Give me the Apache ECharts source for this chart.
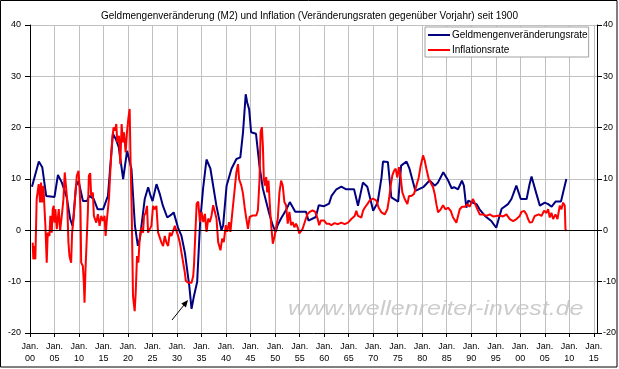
<!DOCTYPE html>
<html>
<head>
<meta charset="utf-8">
<script src="https://cdn.jsdelivr.net/npm/echarts@6/dist/echarts.min.js"></script>
<style>
html,body{margin:0;padding:0;background:#fff;}
#chart{width:619px;height:369px;}
</style>
</head>
<body>
<div id="chart"></div>
<script>
// ---- data ----
const titleText = 'Geldmengenveränderung (M2) und Inflation (Veränderungsraten gegenüber Vorjahr) seit 1900';
const seriesNames = ['Geldmengenveränderungsrate', 'Inflationsrate'];
const xTickYears = [1900,1905,1910,1915,1920,1925,1930,1935,1940,1945,1950,1955,1960,1965,1970,1975,1980,1985,1990,1995,2000,2005,2010,2015];
const xTickLabels = ['00','05','10','15','20','25','30','35','40','45','50','55','60','65','70','75','80','85','90','95','00','05','10','15'];
const yTicks = [-20,-10,0,10,20,30,40];

const m2Years = [1900.4,1901.8,1902.5,1903.3,1905.0,1905.7,1906.5,1907.5,1908.2,1908.7,1909.4,1909.9,1910.8,1911.6,1912.1,1913.0,1913.8,1914.9,1915.9,1916.9,1917.5,1918.1,1919.0,1919.8,1920.7,1921.4,1922.0,1922.4,1923.4,1924.1,1924.6,1925.0,1925.8,1926.5,1927.1,1928.0,1928.9,1929.3,1930.2,1930.9,1931.6,1932.5,1932.95,1933.4,1934.1,1934.7,1935.3,1936.0,1936.8,1938.0,1939.05,1939.4,1940.1,1941.1,1942.1,1942.9,1943.45,1944.0,1944.3,1944.7,1945.1,1946.1,1946.8,1947.5,1948.7,1949.5,1950.1,1950.5,1951.2,1952.2,1953.0,1954.1,1956.3,1956.8,1958.3,1958.9,1960.0,1961.0,1961.5,1962.5,1963.5,1964.5,1966.1,1966.9,1967.9,1968.8,1970.0,1970.9,1971.7,1972.0,1973.0,1973.7,1975.1,1975.7,1976.8,1977.4,1978.6,1980.2,1981.5,1982.6,1983.2,1984.3,1985.3,1986.0,1986.5,1987.3,1988.1,1988.5,1989.0,1989.4,1990.2,1991.1,1991.7,1992.8,1994.1,1995.1,1995.6,1996.2,1997.5,1998.2,1999.2,2000.1,2001.3,2001.9,2002.3,2003.3,2004.0,2005.0,2005.7,2006.4,2007.2,2008.3,2009.4];
const m2Values = [8.5,13.4,12.3,6.7,6.5,10.8,9.3,6.4,2.2,0.8,8.7,9.6,5.7,5.7,6.7,6.1,4.1,4.1,6.7,18.8,17.8,16.2,10.0,15.5,11.9,0.9,-3.0,-1.7,6.1,8.4,6.7,5.7,9.0,7.0,4.8,2.5,3.1,3.5,0.5,-1.1,-4.4,-10.9,-15.3,-13.0,-10.0,1.6,8.1,13.8,12.0,4.9,0.0,1.0,8.7,12.0,13.9,14.2,19.1,26.5,24.9,23.6,19.1,18.8,12.6,8.1,3.6,1.0,-0.3,1.0,2.3,3.9,5.5,3.6,3.6,1.9,2.6,4.9,4.7,5.2,6.7,8.0,8.5,8.0,8.0,4.8,9.3,8.5,3.8,5.4,10.3,13.4,13.3,6.4,5.6,12.6,13.4,12.0,7.7,8.4,9.7,8.7,9.3,11.3,9.7,8.2,8.4,8.0,9.7,8.7,4.4,5.8,5.4,5.1,4.1,2.8,1.8,0.5,2.2,4.2,5.1,6.1,8.7,6.1,6.1,9.0,10.5,7.1,4.8,5.4,5.1,4.6,5.6,5.6,10.0];

const cpiYears = [1900.55,1900.68,1900.89,1901.09,1901.36,1901.77,1902.05,1902.25,1902.46,1902.73,1902.93,1903.14,1903.41,1903.62,1903.96,1904.16,1904.43,1904.64,1904.84,1904.98,1905.18,1905.46,1905.66,1905.87,1906.14,1906.55,1906.82,1907.09,1907.37,1907.57,1907.84,1908.05,1908.39,1908.59,1908.94,1909.21,1909.55,1909.89,1910.10,1910.30,1910.44,1910.78,1910.98,1911.12,1911.32,1911.60,1911.80,1912.01,1912.28,1912.48,1912.82,1913.03,1913.30,1913.51,1913.85,1914.19,1914.53,1914.87,1915.21,1915.42,1915.69,1916.10,1916.44,1916.78,1917.05,1917.33,1917.60,1917.80,1918.14,1918.42,1918.69,1918.96,1919.17,1919.51,1919.78,1920.05,1920.33,1920.53,1920.74,1921.01,1921.35,1921.56,1921.83,1922.10,1922.37,1922.71,1923.06,1923.26,1923.60,1923.87,1924.08,1924.42,1924.76,1925.10,1925.44,1925.78,1926.13,1926.47,1926.81,1927.15,1927.49,1927.83,1928.17,1928.51,1928.85,1929.20,1929.54,1929.88,1930.22,1930.56,1930.90,1931.24,1931.58,1931.79,1932.27,1932.61,1932.95,1933.29,1933.45,1933.65,1933.99,1934.32,1934.66,1935.0,1935.34,1935.68,1936.01,1936.35,1936.69,1937.03,1937.36,1937.70,1938.04,1938.38,1938.85,1939.19,1939.53,1939.93,1940.20,1940.61,1940.88,1941.28,1941.76,1942.09,1942.43,1942.64,1943.11,1943.45,1943.78,1944.12,1944.46,1944.80,1945.14,1945.47,1946.15,1946.49,1946.82,1947.03,1947.30,1947.50,1947.70,1947.91,1948.18,1948.38,1948.65,1948.92,1949.19,1949.53,1949.86,1950.20,1950.54,1950.88,1951.22,1951.55,1951.89,1952.23,1952.57,1952.91,1953.24,1953.58,1953.92,1954.26,1954.59,1954.93,1955.27,1955.61,1955.95,1956.28,1956.62,1957.09,1957.64,1958.18,1958.65,1958.99,1959.32,1959.66,1960.0,1960.47,1961.01,1961.46,1962.14,1962.82,1963.50,1964.18,1964.86,1965.54,1966.22,1966.56,1966.90,1967.24,1967.59,1967.93,1968.27,1968.81,1969.29,1969.97,1970.65,1971.12,1971.67,1972.35,1972.89,1973.23,1973.57,1973.91,1974.25,1974.59,1974.93,1975.27,1975.61,1975.95,1976.43,1976.97,1977.31,1977.79,1978.33,1978.81,1979.29,1979.69,1980.17,1980.51,1980.85,1981.33,1981.73,1982.21,1982.55,1982.89,1983.23,1983.78,1984.25,1984.73,1985.27,1985.82,1986.29,1986.97,1987.31,1987.65,1988.13,1988.67,1989.22,1989.69,1990.03,1990.37,1990.71,1991.26,1991.73,1992.41,1993.10,1993.78,1994.46,1995.14,1995.82,1996.50,1997.18,1997.86,1998.54,1999.22,1999.90,2000.24,2000.78,2001.26,2001.60,2001.94,2002.41,2002.96,2003.30,2003.78,2004.32,2004.86,2005.34,2005.68,2006.02,2006.36,2006.70,2007.18,2007.59,2008.06,2008.40,2008.74,2009.08,2009.22,2009.42];
const cpiValues = [-2.4,-5.65,-3.05,-5.65,6.07,9.0,5.42,9.32,5.42,8.67,4.77,0.86,-6.3,-0.44,-1.09,2.81,-0.44,4.12,4.77,1.51,4.12,0.21,2.16,4.12,-0.12,3.46,6.07,11.28,11.41,6.07,-2.4,-5.0,-6.3,-0.44,2.81,6.72,10.63,11.6,8.67,4.12,-6.3,-6.95,-10.2,-14.1,-7.6,-1.09,3.46,10.63,11.15,6.72,7.37,2.81,3.14,1.51,3.14,0.86,2.81,1.83,2.81,-1.09,2.16,6.07,12.58,17.79,20.07,19.42,20.72,17.14,18.44,12.9,20.72,17.14,19.09,15.18,19.09,21.7,23.65,12.58,4.12,-12.81,-15.74,-12.16,-5.0,-6.3,-1.74,0.54,-0.44,2.81,3.46,4.77,-0.44,-0.77,0.86,4.77,4.12,4.77,-0.44,-0.44,-2.4,-3.05,-1.09,-2.4,-3.05,-0.44,-1.09,-0.12,0.86,-0.12,-1.09,-2.4,-4.35,-6.3,-8.25,-9.88,-10.2,-9.88,-10.2,-8.9,-6.8,-2.3,5.2,5.6,1.6,3.6,1.6,3.2,-0.3,2.3,1.6,2.9,4.9,3.6,2.3,-2.3,-3.9,-1.6,-2.3,1.0,-0.3,1.6,-0.3,3.6,8.1,11.3,12.9,10.0,8.7,7.1,4.5,2.3,0.3,2.6,2.3,2.9,2.9,3.9,10.0,19.1,20.1,16.5,10.0,8.7,10.4,7.4,9.7,4.9,1.0,-2.6,-1.3,-1.0,2.3,7.4,9.7,8.7,5.5,4.9,1.3,3.6,1.0,1.6,0.6,1.3,0.6,-0.6,-0.3,0.3,0.6,2.3,3.2,3.6,3.9,3.6,2.3,1.0,1.9,1.6,1.9,1.3,1.3,1.0,1.4,1.2,1.5,1.2,1.5,2.2,2.8,3.8,2.8,3.1,2.5,3.8,4.4,5.1,5.8,6.2,5.8,4.4,3.5,3.1,4.1,6.1,8.7,10.7,11.6,12.0,10.3,12.3,10.3,7.4,6.1,5.1,6.7,6.7,7.1,8.7,10.3,12.6,14.6,13.6,12.0,10.0,10.3,8.4,7.1,5.1,3.5,4.1,4.9,4.1,4.4,3.8,2.5,1.5,1.8,4.1,4.6,4.6,5.1,4.6,5.4,6.1,5.8,4.1,3.1,3.1,2.8,3.1,2.7,2.8,2.9,2.7,3.1,2.2,1.8,2.2,2.8,3.6,3.8,3.1,2.2,1.5,1.6,2.8,2.5,3.1,2.8,3.8,3.4,4.1,2.5,3.4,2.2,3.1,2.2,4.8,4.1,5.4,4.8,0.2,-0.1];

const watermark = 'www.wellenreiter-invest.de';

// ---- chart ----
const chart = echarts.init(document.getElementById('chart'), null, {renderer: 'canvas'});
const FONT = '"Liberation Sans", Arial, sans-serif';
const pair = (xs, ys) => xs.map((x, i) => [x, ys[i]]);

function xLabel(v) {
  const idx = xTickYears.findIndex(t => Math.abs(t - v) < 1e-6);
  return idx < 0 ? '' : 'Jan.\n' + xTickLabels[idx];
}

const option = {
  animation: false,
  backgroundColor: '#ffffff',
  textStyle: {fontFamily: FONT},
  title: {
    text: titleText, left: 'center', top: 6,
    textStyle: {fontSize: 10, fontWeight: 'normal', color: '#000', fontFamily: FONT}
  },
  legend: {
    left: 425, top: 27, orient: 'vertical',
    backgroundColor: '#fff', borderColor: '#a0a0a0', borderWidth: 1,
    padding: [3, 1, 2, 3], itemGap: 5, itemWidth: 22, itemHeight: 2,
    icon: 'rect',
    textStyle: {fontSize: 10, color: '#000', fontFamily: FONT, padding: [0,0,0,-3]},
    data: seriesNames
  },
  grid: {left: 30, right: 20, top: 25, bottom: 36, containLabel: false},
  xAxis: {
    type: 'value', min: 1900, max: 2015.65, interval: 5,
    axisLine: {show: true, onZero: false, lineStyle: {color: '#000', width: 1}},
    axisTick: {show: true, length: 4, lineStyle: {color: '#000'}},
    axisLabel: {formatter: xLabel, fontSize: 9, color: '#000', lineHeight: 12, margin: 8, fontFamily: FONT, showMaxLabel: false},
    splitLine: {show: true, lineStyle: {color: '#c0c0c0', width: 1}}
  },
  yAxis: [{
    type: 'value', min: yTicks[0], max: yTicks[yTicks.length - 1], interval: 10, position: 'left',
    axisLine: {show: true, lineStyle: {color: '#000'}},
    axisTick: {show: true, length: 5, lineStyle: {color: '#000'}},
    axisLabel: {fontSize: 9, color: '#000', margin: 9, fontFamily: FONT},
    splitLine: {show: true, lineStyle: {color: '#c0c0c0', width: 1}}
  }, {
    type: 'value', min: yTicks[0], max: yTicks[yTicks.length - 1], interval: 10, position: 'right',
    axisLine: {show: true, lineStyle: {color: '#000'}},
    axisTick: {show: true, length: 5, lineStyle: {color: '#000'}},
    axisLabel: {fontSize: 9, color: '#000', margin: 6, fontFamily: FONT},
    splitLine: {show: false}
  }],
  series: [{
    name: seriesNames[0], type: 'line', data: pair(m2Years, m2Values),
    showSymbol: false, symbol: 'none', color: '#000080',
    lineStyle: {color: '#000080', width: 2},
    markLine: {
      silent: true, symbol: 'none', label: {show: false},
      lineStyle: {color: '#000', width: 1, type: 'solid'},
      data: [{yAxis: 0}]
    },
    z: 2
  }, {
    name: seriesNames[1], type: 'line', data: pair(cpiYears, cpiValues),
    showSymbol: false, symbol: 'none', color: '#ff0000',
    lineStyle: {color: '#ff0000', width: 2},
    z: 3
  }],
  graphic: [{
    type: 'text', left: 288, top: 299, z: -10, scaleX: 1.25,
    style: {text: watermark, font: 'italic 20px "Liberation Sans", Arial, sans-serif', fill: '#cccccc'}
  }, {
    type: 'line', z: 10,
    shape: {x1: 172, y1: 320, x2: 184, y2: 305},
    style: {stroke: '#000', lineWidth: 1}
  }, {
    type: 'polygon', z: 10,
    shape: {points: [[188, 300], [185.9, 307.4], [181.3, 303.6]]},
    style: {fill: '#000'}
  }, {
    type: 'rect', z: 20, silent: true,
    shape: {x: 0.5, y: 0.5, width: 616.5, height: 366.5},
    style: {fill: 'none', stroke: '#000', lineWidth: 1}
  }]
};
chart.setOption(option);
</script>
</body>
</html>
